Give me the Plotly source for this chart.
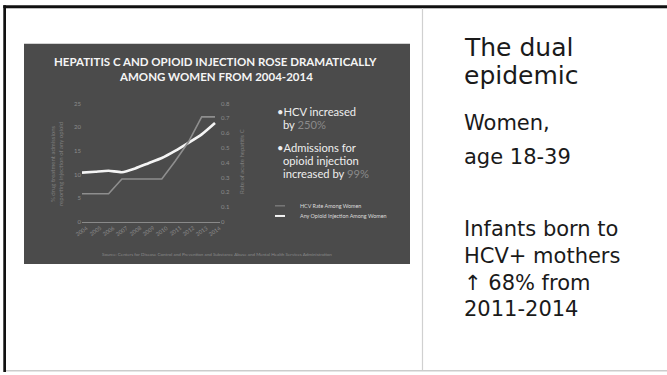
import plotly.graph_objects as go

# ---------------- data ----------------
years = list(range(2004, 2015))
hcv_rate = [0.19, 0.19, 0.19, 0.29, 0.29, 0.29, 0.29, 0.41, 0.54, 0.71, 0.71]
opioid_pct = [10.4, 10.6, 10.8, 10.5, 11.3, 12.4, 13.5, 15.0, 16.7, 18.5, 20.9]
left_ticks = [0, 5, 10, 15, 20, 25]
right_ticks = [0, 0.1, 0.2, 0.3, 0.4, 0.5, 0.6, 0.7, 0.8]
series_names = ["HCV Rate Among Women", "Any Opioid Injection Among Women"]
chart_title = ["HEPATITIS C AND OPIOID INJECTION ROSE DRAMATICALLY",
               "AMONG WOMEN FROM 2004-2014"]
left_title = "% drug treatment admissions<br>reporting injection of any opioid"
right_title = "Rate of acute hepatitis C"
source_text = ("Source: Centers for Disease Control and Prevention and Substance Abuse "
               "and Mental Health Services Administration")
side_title = ["The dual", "epidemic"]
side_body = ["Women,", "age 18-39"]
side_note = ["Infants born to", "HCV+ mothers", "\u2191 68% from", "2011-2014"]

W, H = 667, 375
def px(x):
    return x / W
def py(y):
    return 1 - y / H

CHART = "Lato, Open Sans, sans-serif"
SIDE = "DejaVu Sans, Verdana, sans-serif"
TICK = "#8c8c8c"

fig = go.Figure()
fig.add_trace(go.Scatter(
    x=years, y=hcv_rate, mode="lines", name=series_names[0], yaxis="y2",
    line=dict(color="#8e8e8e", width=1.6), showlegend=False))
fig.add_trace(go.Scatter(
    x=years, y=opioid_pct, mode="lines", name=series_names[1], yaxis="y",
    line=dict(color="#f4f4f4", width=2.6, shape="spline", smoothing=0.5),
    showlegend=False))

shapes = [
    dict(type="rect", xref="paper", yref="paper", x0=px(24), x1=px(410),
         y0=py(265), y1=py(40.5), fillcolor="#4b4b4b", line=dict(width=0), layer="below"),
    dict(type="rect", xref="paper", yref="paper", x0=px(3.3), x1=1,
         y0=py(4), y1=py(1.3), fillcolor="#111111", line=dict(width=0), layer="below"),
    dict(type="line", xref="paper", yref="paper", x0=px(6), x1=1,
         y0=py(4.6), y1=py(4.6), line=dict(color="#bdbdbd", width=1), layer="below"),
    dict(type="rect", xref="paper", yref="paper", x0=px(3.3), x1=px(6),
         y0=py(375), y1=py(1.3), fillcolor="#111111", line=dict(width=0), layer="below"),
    dict(type="line", xref="paper", yref="paper", x0=px(422.5), x1=px(422.5),
         y0=py(4), y1=py(374), line=dict(color="#d0d0d0", width=1.2), layer="below"),
    dict(type="line", xref="paper", yref="paper", x0=px(6), x1=1,
         y0=py(373.8), y1=py(373.8), line=dict(color="#cccccc", width=1.5), layer="below"),
    # legend samples
    dict(type="line", xref="paper", yref="paper", x0=px(275), x1=px(285),
         y0=py(205.7), y1=py(205.7), line=dict(color="#8e8e8e", width=1)),
    dict(type="line", xref="paper", yref="paper", x0=px(275), x1=px(285),
         y0=py(216), y1=py(216), line=dict(color="#f4f4f4", width=2)),
]

ann = []
# chart title
for i, t in enumerate(chart_title):
    ann.append(dict(text="<b>%s</b>" % t, x=px(215.5), y=py(58.5 + 15 * i), xref="paper",
                    yref="paper", showarrow=False, xanchor="center", yanchor="middle",
                    font=dict(family=CHART, size=11.5, color="#f5f5f5")))
# x tick labels (rotated)
for yr in years:
    ann.append(dict(text=str(yr), x=yr, xref="x", y=py(231), yref="paper",
                    showarrow=False, textangle=-35, xanchor="center", yanchor="middle",
                    font=dict(family=CHART, size=5.5, color=TICK)))
# axis titles
ann.append(dict(text=left_title, x=px(57), y=py(163), xref="paper", yref="paper",
                showarrow=False, textangle=-90, xanchor="center", yanchor="middle",
                font=dict(family=CHART, size=6, color="#7e7e7e")))
ann.append(dict(text=right_title, x=px(242), y=py(161), xref="paper", yref="paper",
                showarrow=False, textangle=-90, xanchor="center", yanchor="middle",
                font=dict(family=CHART, size=6, color="#7e7e7e")))
# bullet text
bullet_lines = [
    ("\u2022HCV increased", 275, 110),
    ("by <span style='color:#8a8a8a'>250%</span>", 280.5, 123),
    ("\u2022Admissions for", 275, 146),
    ("opioid injection", 280.5, 159.5),
    ("increased by <span style='color:#8a8a8a'>99%</span>", 280.5, 173),
]
for t, xx, yy in bullet_lines:
    ann.append(dict(text=t, x=px(xx), y=py(yy), xref="paper", yref="paper",
                    showarrow=False, xanchor="left", yanchor="middle",
                    font=dict(family=CHART, size=11.2, color="#eeeeee")))
# legend labels
for name, yy in zip(series_names, [205.7, 216]):
    ann.append(dict(text=name, x=px(298), y=py(yy), xref="paper", yref="paper",
                    showarrow=False, xanchor="left", yanchor="middle",
                    font=dict(family=CHART, size=5.4, color="#dddddd")))
# source
ann.append(dict(text=source_text, x=px(217), y=py(255.7), xref="paper", yref="paper",
                showarrow=False, xanchor="center", yanchor="middle",
                font=dict(family=CHART, size=4.5, color="#8a8a8a")))
# side panel
for t, yy in zip(side_title, [44, 73]):
    ann.append(dict(text=t, x=px(462), y=py(yy), xref="paper", yref="paper",
                    showarrow=False, xanchor="left", yanchor="middle",
                    font=dict(family=SIDE, size=25, color="#1a1a1a")))
for t, yy in zip(side_body, [121, 156]):
    ann.append(dict(text=t, x=px(462), y=py(yy), xref="paper", yref="paper",
                    showarrow=False, xanchor="left", yanchor="middle",
                    font=dict(family=SIDE, size=21, color="#1a1a1a")))
for t, yy in zip(side_note, [229, 257, 284, 311]):
    ann.append(dict(text=t, x=px(462), y=py(yy), xref="paper", yref="paper",
                    showarrow=False, xanchor="left", yanchor="middle",
                    font=dict(family=SIDE, size=21, color="#1a1a1a")))

fig.update_layout(
    width=W, height=H, margin=dict(l=0, r=0, t=0, b=0),
    paper_bgcolor="white", plot_bgcolor="rgba(0,0,0,0)",
    shapes=shapes, annotations=ann, showlegend=False,
    xaxis=dict(domain=[px(82), px(220)], range=[2004, 2014 + 5 / 13.3],
               showgrid=False, zeroline=False, showticklabels=False,
               showline=True, linecolor="#8a8a8a", linewidth=1, ticks=""),
    yaxis=dict(domain=[py(222), py(101.5)], range=[0, 25], tickvals=left_ticks,
               showgrid=False, zeroline=False, ticks="", showline=False,
               tickfont=dict(family=CHART, size=6, color=TICK)),
    yaxis2=dict(overlaying="y", side="right", range=[0, 0.8], tickvals=right_ticks,
                ticktext=[("%g" % v) for v in right_ticks],
                showgrid=False, zeroline=False, ticks="", showline=False,
                tickfont=dict(family=CHART, size=6, color=TICK)),
)

fig.write_html("out.html")
